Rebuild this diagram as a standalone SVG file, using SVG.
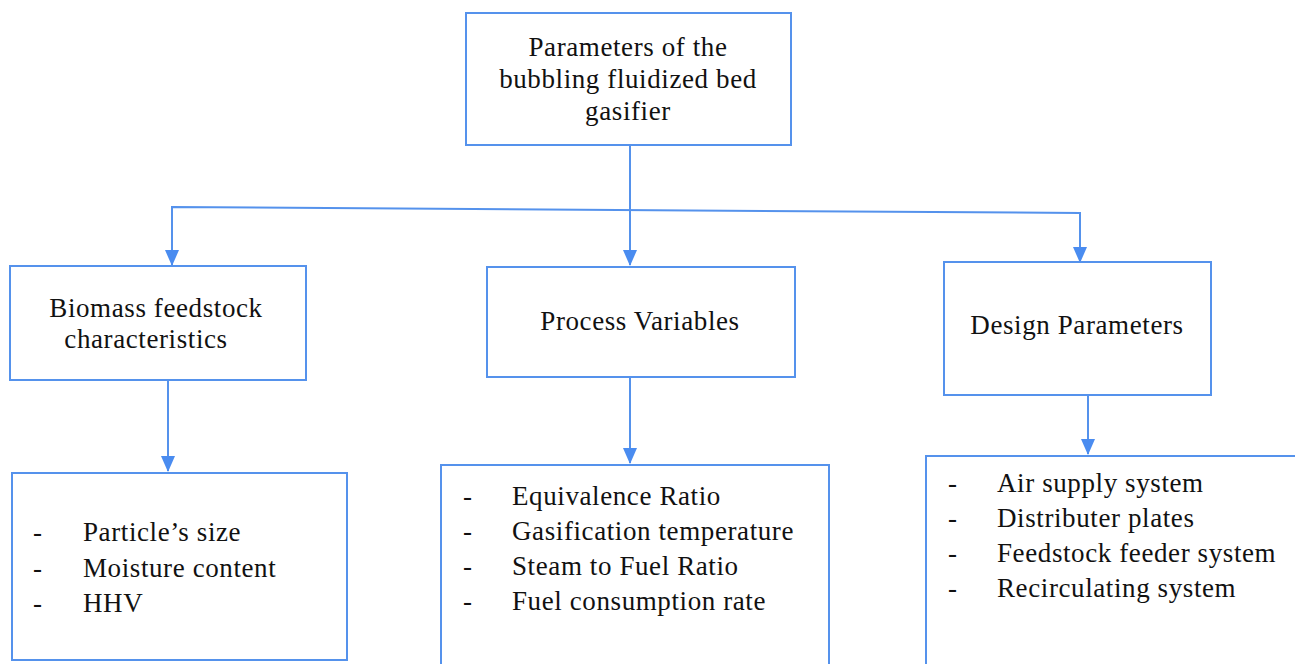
<svg xmlns="http://www.w3.org/2000/svg" width="1295" height="664" viewBox="0 0 1295 664">
<style>
.box{fill:#fff;stroke:#5592ec;stroke-width:2}
.ln{fill:none;stroke:#5592ec;stroke-width:2}
text{font-family:"Liberation Serif","Times New Roman",serif;font-size:27px;letter-spacing:0.6px;fill:#111}
.c{text-anchor:middle}
</style>
<defs>
<marker id="ah" markerWidth="16" markerHeight="16" viewBox="0 0 16 16" refX="15" refY="8" orient="auto" markerUnits="userSpaceOnUse">
<path d="M0,1 L16,8 L0,15 Z" fill="#4a8cf0"/>
</marker>
</defs>
<rect width="1295" height="664" fill="#fff"/>
<g id="connectors">
<path class="ln" d="M630,145 V265" marker-end="url(#ah)"/>
<path class="ln" d="M172,266 V207 L1080,213 V262" marker-end="url(#ah)"/>
<path class="ln" d="M172,207 V265" marker-end="url(#ah)"/>
<path class="ln" d="M168,380 V471" marker-end="url(#ah)"/>
<path class="ln" d="M630,377 V463" marker-end="url(#ah)"/>
<path class="ln" d="M1088,395 V454" marker-end="url(#ah)"/>
</g>
<g id="root">
<rect class="box" x="466" y="13" width="325" height="132"/>
<text class="c" x="628" y="56">Parameters of the</text>
<text class="c" x="628" y="88">bubbling fluidized bed</text>
<text class="c" x="628" y="120">gasifier</text>
</g>
<g id="biomass">
<rect class="box" x="10" y="266" width="296" height="114"/>
<text class="c" x="156" y="317">Biomass feedstock</text>
<text class="c" x="146" y="348">characteristics</text>
</g>
<g id="process">
<rect class="box" x="487" y="267" width="308" height="110"/>
<text class="c" x="640" y="330">Process Variables</text>
</g>
<g id="design">
<rect class="box" x="944" y="262" width="267" height="133"/>
<text class="c" x="1077" y="334">Design Parameters</text>
</g>
<g id="biomass-list">
<rect class="box" x="12" y="473" width="335" height="187"/>
<text x="33" y="541">-</text><text x="83" y="541">Particle’s size</text>
<text x="33" y="577">-</text><text x="83" y="577">Moisture content</text>
<text x="33" y="612">-</text><text x="83" y="612">HHV</text>
</g>
<g id="process-list">
<rect class="box" x="441" y="465" width="388" height="210"/>
<text x="463" y="505">-</text><text x="512" y="505">Equivalence Ratio</text>
<text x="463" y="540">-</text><text x="512" y="540">Gasification temperature</text>
<text x="463" y="575">-</text><text x="512" y="575">Steam to Fuel Ratio</text>
<text x="463" y="610">-</text><text x="512" y="610">Fuel consumption rate</text>
</g>
<g id="design-list">
<rect class="box" x="926" y="456" width="380" height="220"/>
<text x="948" y="492">-</text><text x="997" y="492">Air supply system</text>
<text x="948" y="527">-</text><text x="997" y="527">Distributer plates</text>
<text x="948" y="562">-</text><text x="997" y="562">Feedstock feeder system</text>
<text x="948" y="597">-</text><text x="997" y="597">Recirculating system</text>
</g>
</svg>
